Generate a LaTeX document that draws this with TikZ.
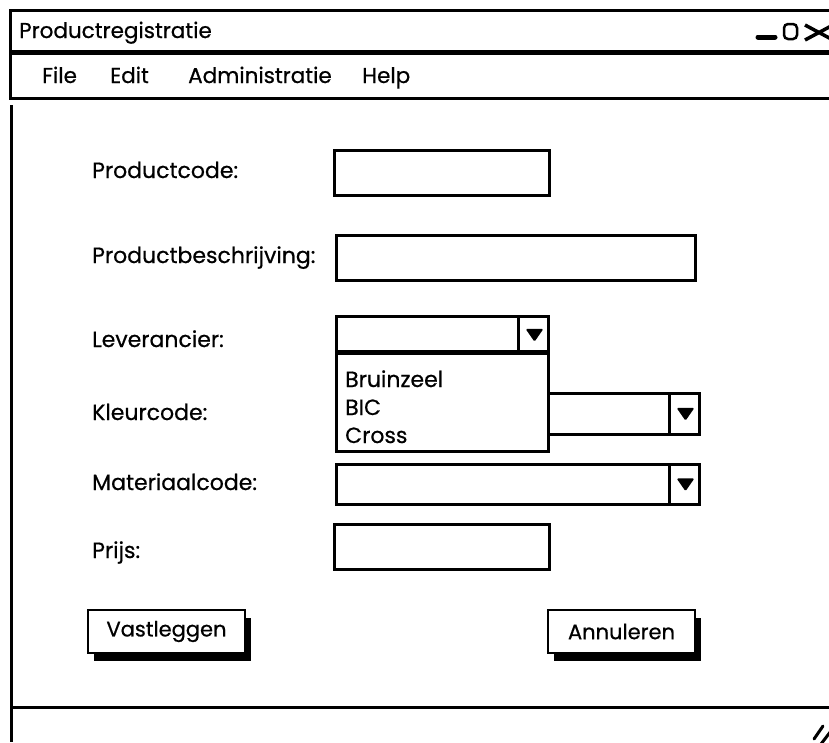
\documentclass[tikz,border=0pt]{standalone}
\usepackage{fontspec}
\setmainfont{Poppins}[FakeBold=0.6]
\usepackage{tikz}
\usetikzlibrary{positioning}
\usetikzlibrary{shadows}
\tikzset{
  x = 1pt,
  y = -1pt,
  frame/.style = {line width = 3pt},
  field/.style = {draw, line width = 2.5pt, fill = white, anchor = north west, inner sep = 0pt},
  fieldlabel/.style = {anchor = base west, inner sep = 0pt, font = \fontsize{22}{25}\selectfont},
  menuitem/.style = {anchor = base west, inner sep = 0pt, font = \fontsize{21.5}{24}\selectfont},
  listitem/.style = {anchor = base west, inner sep = 0pt, font = \fontsize{22}{25}\selectfont},
  button/.style = {draw, line width = 2.5pt, fill = white, minimum height = 43pt,
    inner sep = 0pt, font = \fontsize{21}{24}\selectfont,
    drop shadow = {shadow xshift = 6pt, shadow yshift = -8pt, fill = black, opacity = 1}},
}

\begin{document}
\begin{tikzpicture}
    \useasboundingbox (0,0) rectangle (829,742);
    % window frame
    \draw [frame] (829,10) -| (10,98) -- (829,98);
    \draw [frame, line width = 5pt] (10,52) -- (829,52);
    \draw [frame] (11,105) -- (11,742);
    \draw [frame] (11,707) -- (829,707);
    \node [menuitem] (title) at (19,38) {Productregistratie};
    % window buttons
    \draw [line width = 5pt, line cap = round] (758,37) -- (775,37);
    \draw [line width = 2.5pt, rounded corners = 4pt] (784,24) rectangle (797,39);
    \draw [line width = 3.5pt] (805,25) -- (833,40) (805,40) -- (833,25);
    \draw [line width = 3pt, line cap = round] (814,739) -- (823,726) (821,744) -- (831,731);
    % menu
    \node [menuitem] (mfile) at (42,83) {File};
    \node [menuitem] (medit) at (110,83) {Edit};
    \node [menuitem] (madmin) at (188,83) {Administratie};
    \node [menuitem] (mhelp) at (362,83) {Help};
    % labels
    \node [fieldlabel] (lcode) at (92,178) {Productcode:};
    \node [fieldlabel] (ldesc) at (92,263) {Productbeschrijving:};
    \node [fieldlabel] (llev) at (92,347) {Leverancier:};
    \node [fieldlabel] (lkleur) at (92,420) {Kleurcode:};
    \node [fieldlabel] (lmat) at (92,490) {Materiaalcode:};
    \node [fieldlabel] (lprijs) at (92,558) {Prijs:};
    % fields
    \node [field, minimum width = 215pt, minimum height = 45pt] (pcode) at (333,149) {};
    \node [field, minimum width = 359pt, minimum height = 45pt] (pdesc) at (335,234) {};
    \node [field, minimum width = 212pt, minimum height = 37pt] (lev) at (335,315) {};
    \node [field, minimum width = 363pt, minimum height = 41pt] (kleur) at (335,392) {};
    \node [field, minimum width = 363pt, minimum height = 40pt] (mat) at (335,463) {};
    \node [field, minimum width = 215pt, minimum height = 45pt] (prijs) at (333,523) {};
    \foreach \d in {lev, kleur, mat} {
      \draw [line width = 2.5pt] ([xshift = -31pt]\d.north east) -- ([xshift = -31pt]\d.south east);
      \fill [rounded corners = 1.5pt] ([shift = {(-24,-6)}]\d.east) -- ([shift = {(-6,-6)}]\d.east)
        -- ([shift = {(-15,7)}]\d.east) -- cycle;
    }
    % open list
    \node [field, minimum width = 212pt, minimum height = 98pt] (levlist) at (335,352) {};
    \draw [line width = 5pt] (levlist.north west) -- (levlist.north east);
    \foreach \t [count = \i] in {Bruinzeel, BIC, Cross}
      \node [listitem] (item\i) at (345, 359 + 28 * \i) {\t};
    % buttons
    \node [button, minimum width = 157pt] (save) at (166.5,631.5) {Vastleggen};
    \node [button, minimum width = 147pt] (cancel) at (621.5,631.5) {Annuleren};
\end{tikzpicture}
\end{document}
